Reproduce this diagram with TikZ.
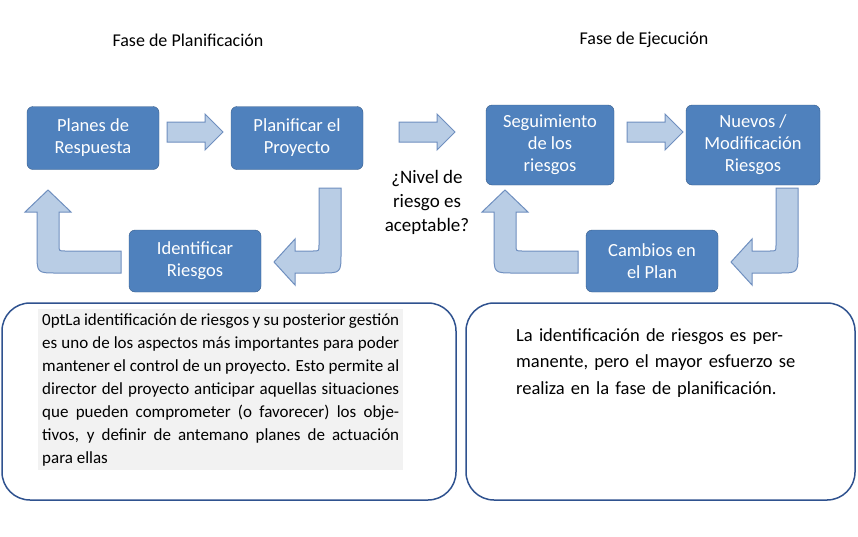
\documentclass[tikz,border=0pt]{standalone}
\usepackage{fontspec}
\setmainfont{Carlito}
\usetikzlibrary{positioning}
\definecolor{boxblue}{HTML}{4F81BD}
\definecolor{boxedge}{HTML}{385D8A}
\definecolor{arrfill}{HTML}{B9CDE5}
\definecolor{arredge}{HTML}{6F8FBF}
\definecolor{textframe}{HTML}{2F528F}
\tikzset{
  fase/.style={draw=boxedge, fill=boxblue, rounded corners=6pt, text=white,
    align=center, inner sep=0pt, font=\fontsize{18.5}{22}\selectfont},
  blockarrow/.style={draw=arredge, fill=arrfill, line width=1pt},
  frame/.style={draw=textframe, line width=1.5pt, rounded corners=28pt}
}
\newcommand{\rightblock}[1]{%
  \draw[blockarrow, shift={(#1,132)}] (0,-10) -- (38,-10) -- (38,-18) -- (56,0)
    -- (38,18) -- (38,10) -- (0,10) -- cycle;}
\newcommand{\downleft}[1]{%
  \draw[blockarrow, shift={(#1,0)}] (341,188) -- (341,253) .. controls (341,273) .. (321,273)
    -- (295,273) -- (295,285) -- (274,262) -- (295,239) -- (295,251) -- (313,251)
    .. controls (319,251) .. (319,245) -- (319,188) -- cycle;}
\newcommand{\leftup}[1]{%
  \draw[blockarrow, shift={(#1,0)}] (121,251) -- (65,251) .. controls (59,251) .. (59,245)
    -- (59,212) -- (71,212) -- (48,190) -- (25,212) -- (37,212) -- (37,253)
    .. controls (37,273) .. (57,273) -- (121,273) -- cycle;}
\begin{document}
\begin{tikzpicture}[x=1pt, y=-1pt]
\useasboundingbox (0,0) rectangle (858,536);
% titles
\node[font=\fontsize{18}{20}\selectfont] (fplan) at (188,40) {Fase de Planificación};
\node[font=\fontsize{18}{20}\selectfont] (fejec) at (644,40) {Fase de Ejecución};
% connectors
\rightblock{167}
\rightblock{399}
\rightblock{627}
\downleft{0}
\downleft{457}
\leftup{0}
\leftup{457}
% steps
\node[fase, minimum width=132pt, minimum height=63pt] (planes) at (93,138) {Planes de\\Respuesta};
\node[fase, minimum width=132pt, minimum height=63pt] (planif) at (297,138) {Planificar el\\Proyecto};
\node[fase, minimum width=132pt, minimum height=62pt] (ident) at (195,261) {Identificar\\Riesgos};
\node[fase, minimum width=128pt, minimum height=80pt] (segui) at (550,145) {Seguimiento\\de los\\riesgos};
\node[fase, minimum width=134pt, minimum height=80pt] (nuevos) at (753,145) {Nuevos /\\Modificación\\Riesgos};
\node[fase, minimum width=132pt, minimum height=62pt] (cambios) at (652,261) {Cambios en\\el Plan};
\node[align=center, font=\fontsize{19}{24}\selectfont] (nivel) at (427,202) {¿Nivel de\\riesgo es\\aceptable?};
% text frames
\draw[frame] (2,303) rectangle (456,500);
\draw[frame] (466,303) rectangle (855,500);
\node[fill=black!5, text width=357pt, inner sep=4pt, anchor=north west, align=justify,
  font=\fontsize{17}{23}\selectfont\hyphenpenalty=10000\relax] (izq) at (38,309)
  {La identificación de riesgos y su posterior gestión es uno de los aspectos más importantes para poder mantener el control de un proyecto. Esto permite al director del proyecto anticipar aquellas situaciones que pueden comprometer (o favorecer) los objetivos, y definir de antemano planes de actuación para ellas};
\node[text width=300pt, inner sep=0pt, anchor=north west, align=left,
  font=\fontsize{18.5}{26.5}\selectfont] (der) at (516,328)
  {La identificación de riesgos es permanente, pero el mayor esfuerzo se realiza en la fase de planificación.};
\end{tikzpicture}
\end{document}
